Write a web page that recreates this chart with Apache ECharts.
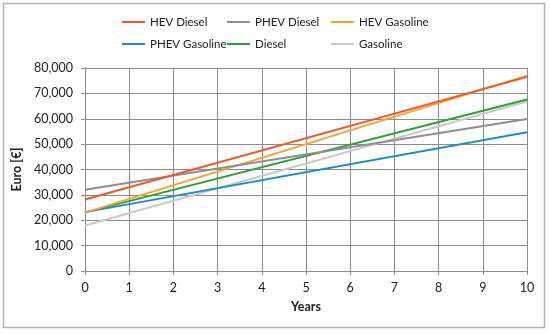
<!DOCTYPE html>
<html>
<head>
<meta charset="utf-8">
<script src="https://cdn.jsdelivr.net/npm/echarts@6/dist/echarts.min.js"></script>
<style>
html,body{margin:0;padding:0;background:#fff;}
#chart{width:550px;height:334px;}
</style>
</head>
<body>
<div id="chart"></div>
<script>
// Data (values at year 0 and year 10; lines are straight)
var years = [0, 10];
var seriesNames = ['HEV Diesel', 'PHEV Diesel', 'HEV Gasoline', 'PHEV Gasoline', 'Diesel', 'Gasoline'];
var hevDiesel = [28200, 76500];
var phevDiesel = [32000, 59900];
var hevGasoline = [23000, 77000];
var phevGasoline = [23200, 54700];
var diesel = [23100, 67600];
var gasoline = [17900, 66800];
var yTicks = [0, 10000, 20000, 30000, 40000, 50000, 60000, 70000, 80000];
var xTicks = [0, 1, 2, 3, 4, 5, 6, 7, 8, 9, 10];

var colors = ['#f0562a', '#8f8f8f', '#f8a12f', '#1b8fc3', '#2f9e36', '#c9c9c9'];
var values = [hevDiesel, phevDiesel, hevGasoline, phevGasoline, diesel, gasoline];
var FONT = 'Lato';

function pairs(arr) {
  return years.map(function (y, i) { return [y, arr[i]]; });
}

var series = seriesNames.map(function (n, i) {
  return {
    name: n,
    type: 'line',
    data: pairs(values[i]),
    showSymbol: false,
    symbol: 'none',
    lineStyle: { color: colors[i], width: 2 },
    itemStyle: { color: colors[i] },
    z: 10 - i
  };
});

var legendPos = [
  { left: 122, top: 16 }, { left: 227, top: 16 }, { left: 331, top: 16 },
  { left: 122, top: 38 }, { left: 227, top: 38 }, { left: 331, top: 38 }
];
var legends = seriesNames.map(function (n, i) {
  return {
    data: [n],
    left: legendPos[i].left,
    top: legendPos[i].top,
    padding: 0,
    icon: 'rect',
    itemWidth: 23,
    itemHeight: 2,
    selectedMode: false,
    textStyle: { fontFamily: FONT, fontSize: 11.5, color: '#222' }
  };
});

var chart = echarts.init(document.getElementById('chart'), null, { renderer: 'canvas' });
chart.setOption({
  animation: false,
  backgroundColor: '#fff',
  textStyle: { fontFamily: FONT },
  legend: legends,
  graphic: [{
    type: 'rect',
    shape: { x: 3.5, y: 3.5, width: 541, height: 324 },
    style: { fill: 'none', stroke: '#b4b4b4', lineWidth: 1.5 },
    silent: true
  }],
  grid: { left: 85, right: 23, top: 68, bottom: 63 },
  xAxis: {
    type: 'value',
    min: xTicks[0],
    max: xTicks[xTicks.length - 1],
    interval: 1,
    name: 'Years',
    nameLocation: 'middle',
    nameGap: 29,
    nameTextStyle: { fontFamily: FONT, fontSize: 12.5, fontWeight: 'bold', color: '#222' },
    axisLine: { show: true, lineStyle: { color: '#8c8c8c', width: 1 } },
    axisTick: { show: true, length: 4, lineStyle: { color: '#8c8c8c' } },
    axisLabel: { fontFamily: FONT, fontSize: 12.5, color: '#222', margin: 10 },
    splitLine: { show: true, lineStyle: { color: '#8c8c8c', width: 1 } }
  },
  yAxis: {
    type: 'value',
    min: yTicks[0],
    max: yTicks[yTicks.length - 1],
    interval: 10000,
    name: 'Euro [€]',
    nameLocation: 'middle',
    nameGap: 44,
    nameRotate: 90,
    nameTextStyle: { fontFamily: FONT, fontSize: 12.5, fontWeight: 'bold', color: '#222' },
    axisLine: { show: true, lineStyle: { color: '#8c8c8c', width: 1 } },
    axisTick: { show: true, length: 4, lineStyle: { color: '#8c8c8c' } },
    axisLabel: {
      fontFamily: FONT, fontSize: 12.5, color: '#222', margin: 12,
      formatter: function (v) { return v.toLocaleString('en-US'); }
    },
    splitLine: { show: true, lineStyle: { color: '#8c8c8c', width: 1 } }
  },
  series: series
});
</script>
</body>
</html>
